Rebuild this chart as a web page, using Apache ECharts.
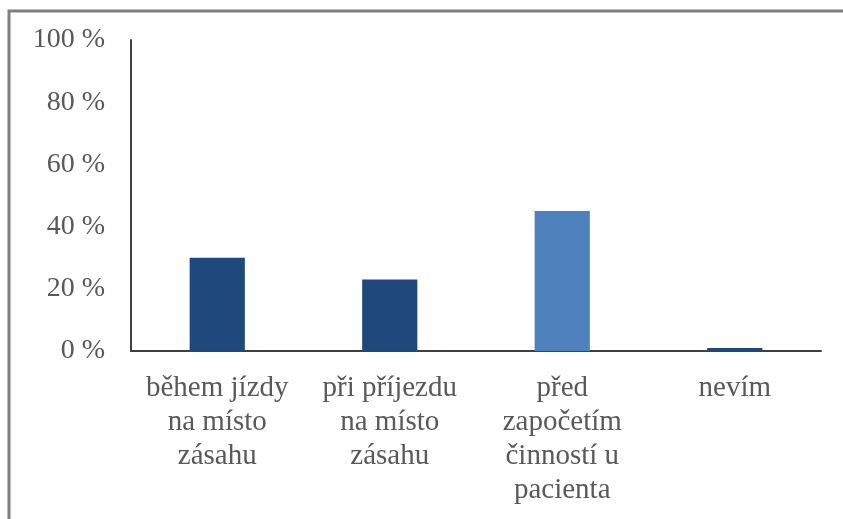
<!DOCTYPE html>
<html>
<head>
<meta charset="utf-8">
<script src="https://cdn.jsdelivr.net/npm/echarts@6/dist/echarts.min.js"></script>
<style>
  html, body { margin: 0; padding: 0; background: #ffffff; }
  #chart { width: 843px; height: 519px; }
</style>
</head>
<body>
<div id="chart"></div>
<script>
// Kdy respondenti zahajují činnost – podíl odpovědí v procentech
const categories = [
  'během jízdy\nna místo\nzásahu',
  'při příjezdu\nna místo\nzásahu',
  'před\nzapočetím\nčinností u\npacienta',
  'nevím'
];
const values = [30, 23, 45, 1];
const barColors = ['#1f497d', '#1f497d', '#4f81bd', '#1f497d'];
const yTicks = [0, 20, 40, 60, 80, 100];

const textColor = '#595959';
const fontFamily = '"Liberation Serif", "Times New Roman", serif';

const chart = echarts.init(document.getElementById('chart'), null, { renderer: 'canvas' });

chart.setOption({
  animation: false,
  backgroundColor: '#ffffff',
  graphic: [
    {
      type: 'polyline',
      shape: { points: [[9, 519], [9, 11], [843, 11]] },
      style: { stroke: '#7f7f7f', lineWidth: 3, fill: null }
    }
  ],
  grid: { left: 131, right: 22, top: 40, bottom: 168, containLabel: false },
  xAxis: {
    type: 'category',
    data: categories,
    axisLine: { show: true, lineStyle: { color: '#404040', width: 2 } },
    axisTick: { show: false },
    axisLabel: {
      interval: 0,
      color: textColor,
      fontFamily: fontFamily,
      fontSize: 29,
      lineHeight: 34,
      margin: 20,
      align: 'center'
    }
  },
  yAxis: {
    type: 'value',
    min: yTicks[0],
    max: yTicks[yTicks.length - 1],
    interval: yTicks[1] - yTicks[0],
    axisLine: { show: true, lineStyle: { color: '#404040', width: 2 } },
    axisTick: { show: false },
    splitLine: { show: false },
    axisLabel: {
      color: textColor,
      fontFamily: fontFamily,
      fontSize: 28,
      margin: 26,
      formatter: v => v + ' %'
    }
  },
  series: [
    {
      type: 'bar',
      barWidth: '32%',
      data: values.map((v, i) => ({ value: v, itemStyle: { color: barColors[i] } }))
    }
  ]
});
</script>
</body>
</html>
